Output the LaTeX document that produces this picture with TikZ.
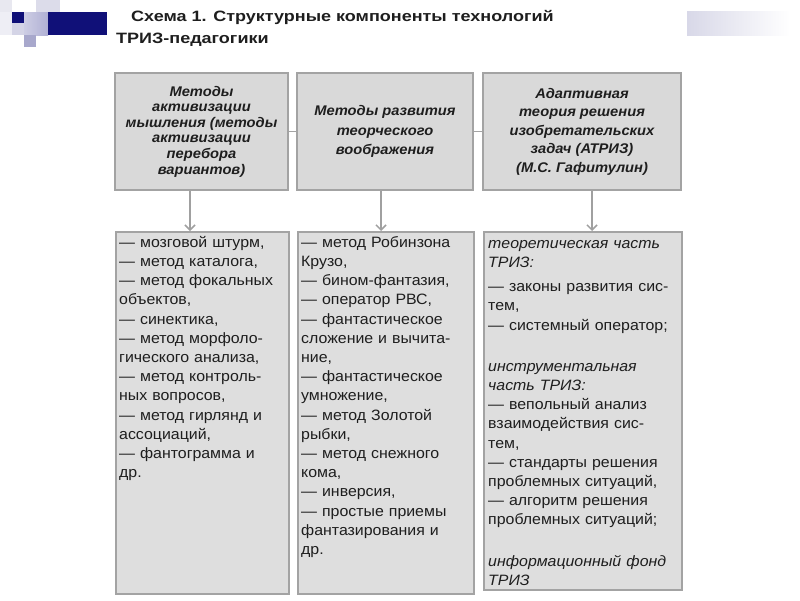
\documentclass[tikz,border=0pt]{standalone}
\usepackage{fontspec}
\usetikzlibrary{arrows.meta}
\setmainfont{Liberation Sans}
\newfontfamily\bodyfont{Liberation Sans}[FakeStretch=1.06]
\newfontfamily\headfont{Liberation Sans}[FakeStretch=1.05]
\newfontfamily\titlefont{Liberation Sans}[FakeStretch=1.2]
\definecolor{boxline}{HTML}{A3A3A3}
\definecolor{boxfill}{HTML}{D9D9D9}
\definecolor{bodyfill}{HTML}{DEDEDE}
\definecolor{arrowc}{HTML}{A0A0A0}
\definecolor{navy}{HTML}{101078}
\definecolor{txt}{HTML}{1E1E1E}
\definecolor{decoA}{HTML}{E8E8F0}
\definecolor{decoB}{HTML}{EEEEF5}
\definecolor{decoC}{HTML}{D4D4E6}
\definecolor{decoD}{HTML}{DCDCEA}
\definecolor{decoE}{HTML}{A8A8CC}
\definecolor{decoF}{HTML}{CDCDE4}
\definecolor{decoG}{HTML}{B0B0D4}
\definecolor{decoH}{HTML}{D8D8E8}
\begin{document}
\begin{tikzpicture}[x=1pt,y=-1pt,
  box/.style={draw=boxline, line width=1.8pt, fill=boxfill, inner sep=0pt},
  bbox/.style={box, fill=bodyfill},
  hdr/.style={font=\headfont\bfseries\itshape\fontsize{14}{#1}\selectfont, align=center, text=txt},
  body/.style={font=\bodyfont\fontsize{15}{19.2}\selectfont, align=left, anchor=north west, inner sep=0pt, text width=#1, text=txt},
  body/.default=172pt,
  ttl/.style={font=\titlefont\bfseries\fontsize{15}{18}\selectfont, anchor=base west, inner sep=0pt, text=txt},
  link/.style={draw=boxline, line width=1.5pt},
  arr/.style={draw=arrowc, line width=1.5pt, -{Straight Barb[length=5pt,width=10pt]}}]
\useasboundingbox (0,0) rectangle (800,600);
\fill[white] (0,0) rectangle (800,600);
% decoration top left
\fill[decoA] (0,0) rectangle (12,12);
\fill[decoB] (0,12) rectangle (12,35);
\fill[navy] (12,12) rectangle (24,23);
\fill[decoC] (12,23) rectangle (24,35);
\shade[left color=decoF, right color=decoG] (24,12) rectangle (48,35);
\fill[decoD] (36,0) rectangle (60,12);
\fill[decoE] (24,35) rectangle (36,47);
\fill[navy] (48,12) rectangle (107,35);
% decoration top right
\shade[left color=decoH, right color=white] (687,11) rectangle (790,35);
% title
\node[ttl] (title1) at (131,21) {Схема 1. Структурные компоненты технологий};
\node[ttl] (title2) at (116,43) {ТРИЗ-педагогики};
% header boxes
\node[box, minimum width=173, minimum height=117, hdr=15.6] (t1) at (201.5,131.5)
  {Методы\\активизации\\мышления (методы\\активизации\\перебора\\вариантов)};
\node[box, minimum width=176, minimum height=117, hdr=19.5] (t2) at (385,131.5)
  {Методы развития\\теорческого\\воображения};
\node[box, minimum width=198, minimum height=117, hdr=18.5] (t3) at (582,131.5)
  {Адаптивная\\теория решения\\изобретательских\\задач (АТРИЗ)\\(М.С. Гафитулин)};
\draw[link] (t1.east) -- (t2.west);
\draw[link] (t2.east) -- (t3.west);
% body boxes
\node[bbox, minimum width=173, minimum height=362, anchor=north west] (b1) at (115,231) {};
\node[bbox, minimum width=176, minimum height=362, anchor=north west] (b2) at (297,231) {};
\node[bbox, minimum width=198, minimum height=358, anchor=north west] (b3) at (483,231) {};
% arrows
\coordinate (a1) at (190,0);
\coordinate (a2) at (381,0);
\coordinate (a3) at (592,0);
\draw[arr] (t1.south -| a1) -- (b1.north -| a1);
\draw[arr] (t2.south -| a2) -- (b2.north -| a2);
\draw[arr] (t3.south -| a3) -- (b3.north -| a3);
% body texts
\node[body] (b1t) at (119,236) {— мозговой штурм,\\— метод каталога,\\— метод фокальных\\объектов,\\— синектика,\\— метод морфоло-\\гического анализа,\\— метод контроль-\\ных вопросов,\\— метод гирлянд и\\ассоциаций,\\— фантограмма и\\др.};
\node[body] (b2t) at (301,236) {— метод Робинзона\\Крузо,\\— бином-фантазия,\\— оператор РВС,\\— фантастическое\\сложение и вычита-\\ние,\\— фантастическое\\умножение,\\— метод Золотой\\рыбки,\\— метод снежного\\кома,\\— инверсия,\\— простые приемы\\фантазирования и\\др.};
\node[body=194pt] (b3t) at (488,240) {\textit{теоретическая часть}\\\textit{ТРИЗ:}\\[5pt]— законы развития сис-\\тем,\\— системный оператор;\\[22pt]\textit{инструментальная}\\\textit{часть ТРИЗ:}\\— вепольный анализ\\взаимодействия сис-\\тем,\\— стандарты решения\\проблемных ситуаций,\\— алгоритм решения\\проблемных ситуаций;\\[22pt]\textit{информационный фонд}\\\textit{ТРИЗ}};
\end{tikzpicture}
\end{document}
